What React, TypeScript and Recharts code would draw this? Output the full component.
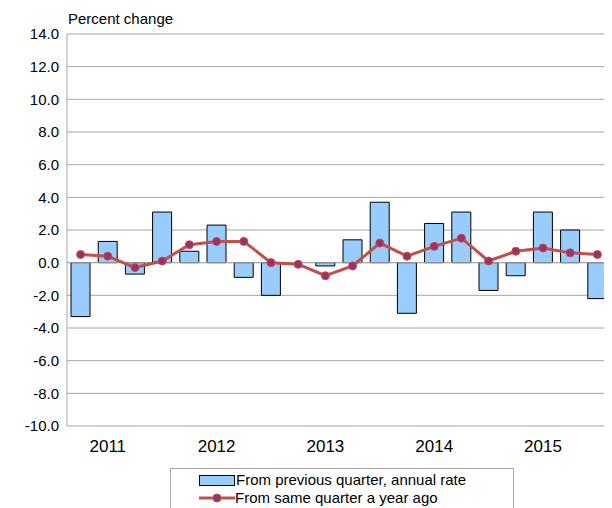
import { ComposedChart, Bar, Line, XAxis, YAxis, CartesianGrid, ReferenceLine } from 'recharts'

const quarters = [
  '2011Q1', '2011Q2', '2011Q3', '2011Q4',
  '2012Q1', '2012Q2', '2012Q3', '2012Q4',
  '2013Q1', '2013Q2', '2013Q3', '2013Q4',
  '2014Q1', '2014Q2', '2014Q3', '2014Q4',
  '2015Q1', '2015Q2', '2015Q3', '2015Q4',
]
const prevQuarter = [-3.3, 1.3, -0.7, 3.1, 0.7, 2.3, -0.9, -2.0, 0.0, -0.2, 1.4, 3.7, -3.1, 2.4, 3.1, -1.7, -0.8, 3.1, 2.0, -2.2]
const yearAgo = [0.5, 0.4, -0.3, 0.1, 1.1, 1.3, 1.3, 0.0, -0.1, -0.8, -0.2, 1.2, 0.4, 1.0, 1.5, 0.1, 0.7, 0.9, 0.6, 0.5]
const yTicks = [-10, -8, -6, -4, -2, 0, 2, 4, 6, 8, 10, 12, 14]

const data = quarters.map((q, i) => ({ q, prev: prevQuarter[i], ago: yearAgo[i] }))

const font = 'Liberation Sans, Arial, sans-serif'

export default function App() {
  return (
    <div style={{ position: 'relative', width: 604, height: 500, fontFamily: font }}>
      <div style={{ position: 'absolute', left: 60, top: 2, fontSize: 15 }}>Percent change</div>
      <ComposedChart
        width={603}
        height={458}
        data={data}
        margin={{ top: 26, right: 0, left: 0, bottom: 0 }}
        barCategoryGap="0%"
      >
        <CartesianGrid vertical={false} stroke="#a6a6a6" />
        <XAxis
          dataKey="q"
          tickLine={false}
          axisLine={false}
          interval={0}
          tickFormatter={(v: string) => (v.endsWith('Q2') ? v.slice(0, 4) : '')}
          tick={{ fontSize: 17, fill: '#000', fontFamily: font }}
          dy={6}
          height={40}
        />
        <YAxis
          domain={[-10, 14]}
          ticks={yTicks}
          interval={0}
          tickFormatter={(v: number) => v.toFixed(1)}
          tick={{ fontSize: 15, fill: '#000', fontFamily: font }}
          tickLine={false}
          axisLine={{ stroke: '#a6a6a6' }}
          width={59}
        />
        <ReferenceLine y={0} stroke="#a6a6a6" />
        <Bar dataKey="prev" fill="#99ccff" stroke="#000" strokeWidth={1} barSize={19} isAnimationActive={false} />
        <Line
          dataKey="ago"
          stroke="#c0504d"
          strokeWidth={3}
          dot={{ r: 4, fill: '#993366', stroke: '#c0504d', strokeWidth: 1 }}
          isAnimationActive={false}
        />
      </ComposedChart>
      <div
        style={{
          position: 'absolute', left: 162, top: 460, width: 344, height: 42,
          border: '1px solid #a6a6a6', fontSize: 15, lineHeight: '18px', boxSizing: 'border-box', paddingLeft: 28, paddingTop: 2,
        }}
      >
        <div style={{ display: 'flex', alignItems: 'center' }}>
          <span style={{ display: 'inline-block', width: 34, height: 9, background: '#99ccff', border: '1px solid #000', marginRight: 1 }} />
          From previous quarter, annual rate
        </div>
        <div style={{ display: 'flex', alignItems: 'center' }}>
          <svg width={36} height={10}>
            <line x1={0} y1={5} x2={36} y2={5} stroke="#c0504d" strokeWidth={3} />
            <circle cx={18} cy={5} r={4} fill="#993366" stroke="#c0504d" />
          </svg>
          From same quarter a year ago
        </div>
      </div>
    </div>
  )
}
